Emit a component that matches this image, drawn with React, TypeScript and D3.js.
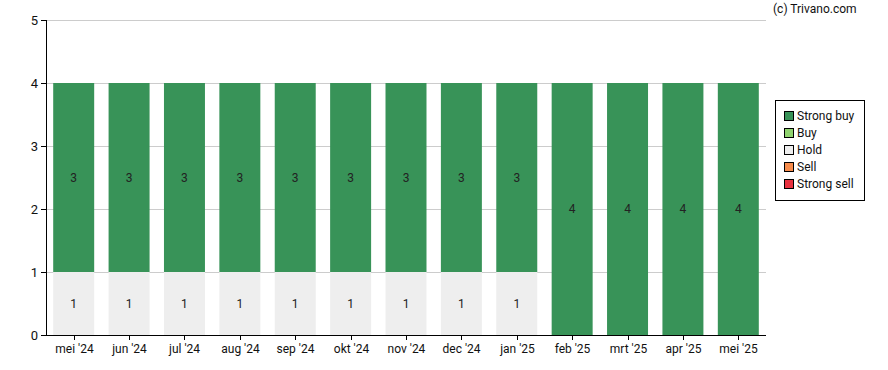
import * as d3 from "d3";

const width = 888;
const height = 370;
const margin = { top: 20, right: 122, bottom: 35, left: 46 };

const months = [
  "mei '24", "jun '24", "jul '24", "aug '24", "sep '24", "okt '24", "nov '24",
  "dec '24", "jan '25", "feb '25", "mrt '25", "apr '25", "mei '25",
];
const strongBuy = [3, 3, 3, 3, 3, 3, 3, 3, 3, 4, 4, 4, 4];
const buy = [0, 0, 0, 0, 0, 0, 0, 0, 0, 0, 0, 0, 0];
const hold = [1, 1, 1, 1, 1, 1, 1, 1, 1, 0, 0, 0, 0];
const sell = [0, 0, 0, 0, 0, 0, 0, 0, 0, 0, 0, 0, 0];
const strongSell = [0, 0, 0, 0, 0, 0, 0, 0, 0, 0, 0, 0, 0];
const yTicks = [0, 1, 2, 3, 4, 5];

const series = [
  { key: "Strong sell", values: strongSell, color: "#e8313f" },
  { key: "Sell", values: sell, color: "#f68b4b" },
  { key: "Hold", values: hold, color: "#eeeeee" },
  { key: "Buy", values: buy, color: "#90d36f" },
  { key: "Strong buy", values: strongBuy, color: "#389358" },
];
const legendOrder = [...series].reverse();

const font = "Roboto, 'Noto Sans', sans-serif";

export default function App() {
  const x = d3
    .scaleBand()
    .domain(months)
    .range([margin.left, width - margin.right])
    .paddingInner(0.26)
    .paddingOuter(0.13);
  const y = d3
    .scaleLinear()
    .domain([0, 5])
    .range([height - margin.bottom, margin.top]);

  const rows = months.map((m, i) => {
    const r: Record<string, number | string> = { month: m };
    series.forEach((s) => (r[s.key] = s.values[i]));
    return r;
  });
  const stacked = d3.stack<any>().keys(series.map((s) => s.key))(rows);

  const x0 = margin.left;
  const x1 = width - margin.right;
  const yBase = y(0);

  return (
    <svg
      width={width}
      height={height}
      style={{ position: "absolute", left: 0, top: 0, fontFamily: font }}
    >
      {yTicks.slice(1).map((t) => (
        <line key={t} x1={x0} x2={x1} y1={y(t) + 0.5} y2={y(t) + 0.5} stroke="#cccccc" />
      ))}
      {stacked.map((layer, li) =>
        layer.map((d, i) => {
          const v = d[1] - d[0];
          if (v <= 0) return null;
          return (
            <g key={`${li}-${i}`}>
              <rect
                x={x(months[i])}
                y={y(d[1])}
                width={x.bandwidth()}
                height={y(d[0]) - y(d[1])}
                fill={series[li].color}
              />
              <text
                x={(x(months[i]) ?? 0) + x.bandwidth() / 2}
                y={(y(d[0]) + y(d[1])) / 2}
                dy="0.35em"
                textAnchor="middle"
                fontSize={12}
                fill="#222"
              >
                {v}
              </text>
            </g>
          );
        })
      )}
      <line x1={x0 + 0.5} x2={x0 + 0.5} y1={margin.top} y2={yBase} stroke="#000" />
      <line x1={x0} x2={x1} y1={yBase + 0.5} y2={yBase + 0.5} stroke="#000" />
      {yTicks.map((t) => (
        <g key={t}>
          <line x1={x0 - 5} x2={x0} y1={y(t) + 0.5} y2={y(t) + 0.5} stroke="#000" />
          <text x={x0 - 8} y={y(t)} dy="0.35em" textAnchor="end" fontSize={13} fill="#111">
            {t}
          </text>
        </g>
      ))}
      {months.map((m) => {
        const cx = Math.round((x(m) ?? 0) + x.bandwidth() / 2) + 0.5;
        return (
          <g key={m}>
            <line x1={cx} x2={cx} y1={yBase} y2={yBase + 5} stroke="#000" />
            <text x={cx} y={yBase + 14} dy="0.35em" textAnchor="middle" fontSize={12} fill="#111">
              {m}
            </text>
          </g>
        );
      })}
      <text x={773} y={13} fontSize={12} fill="#111">
        (c) Trivano.com
      </text>
      <rect x={775.5} y={100.5} width={89} height={100} fill="#fff" stroke="#000" />
      {legendOrder.map((s, i) => (
        <g key={s.key} transform={`translate(784,${116 + i * 17})`}>
          <rect x={0.5} y={-4.5} width={9} height={9} fill={s.color} stroke="#000" />
          <text x={13} y={0} dy="0.35em" fontSize={12} fill="#111">
            {s.key}
          </text>
        </g>
      ))}
    </svg>
  );
}
